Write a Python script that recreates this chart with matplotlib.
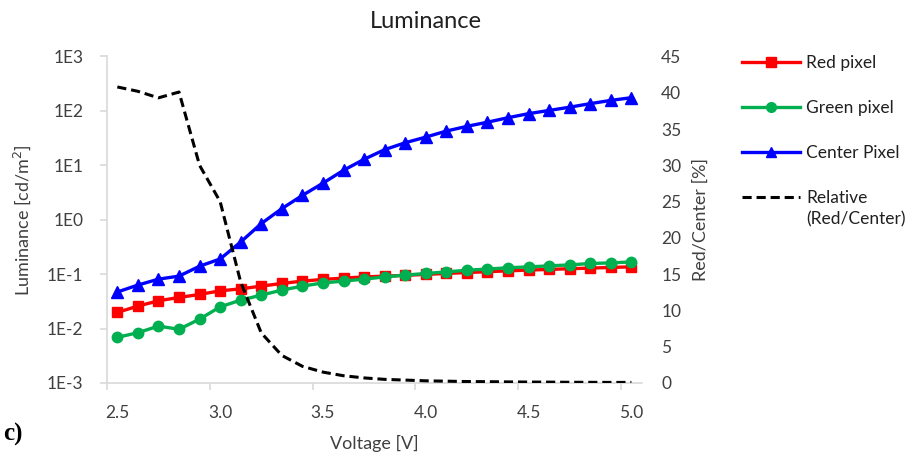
import numpy as np
import matplotlib
matplotlib.use("Agg")
import matplotlib.pyplot as plt
from matplotlib.lines import Line2D

# Spannungen 2.5 .. 5.0 V (26 Punkte)
voltage = [2.5, 2.6, 2.7, 2.8, 2.9, 3.0, 3.1, 3.2, 3.3, 3.4, 3.5, 3.6, 3.7,
           3.8, 3.9, 4.0, 4.1, 4.2, 4.3, 4.4, 4.5, 4.6, 4.7, 4.8, 4.9, 5.0]

red_pixel = [0.0198, 0.0259, 0.0324, 0.0373, 0.0424, 0.0494, 0.0537, 0.0603, 0.0675,
             0.0745, 0.080, 0.0845, 0.089, 0.092, 0.095, 0.099, 0.103, 0.107, 0.111,
             0.115, 0.119, 0.122, 0.126, 0.129, 0.133, 0.136]
green_pixel = [0.0069, 0.0084, 0.0111, 0.0097, 0.0149, 0.0251, 0.0333, 0.0412, 0.0509,
               0.0603, 0.069, 0.0745, 0.081, 0.089, 0.096, 0.103, 0.110, 0.118, 0.124,
               0.131, 0.136, 0.142, 0.148, 0.157, 0.161, 0.168]
center_pixel = [0.047, 0.063, 0.081, 0.092, 0.14, 0.19, 0.39, 0.85, 1.6, 2.8, 4.7, 8.1,
                12.9, 19.4, 26, 33, 42.6, 52, 62, 75, 89, 102, 117, 136, 156, 175]
relative = [40.8, 40.2, 39.3, 40.1, 30.0, 25.0, 13.9, 6.9, 3.8, 2.3, 1.5, 1.0, 0.7,
            0.5, 0.4, 0.3, 0.25, 0.2, 0.18, 0.15, 0.13, 0.12, 0.1, 0.09, 0.08, 0.08]

log_ticks = [1e-3, 1e-2, 1e-1, 1e0, 1e1, 1e2, 1e3]
log_labels = ["1E-3", "1E-2", "1E-1", "1E0", "1E1", "1E2", "1E3"]
x_ticks = [2.5, 3.0, 3.5, 4.0, 4.5, 5.0]

plt.rcParams['font.family'] = ['Lato', 'DejaVu Sans']
txt = '#404040'
axis_grey = '#d9d9d9'

fig = plt.figure(figsize=(9.18, 4.54), dpi=100)
ax = fig.add_axes([0.1166, 0.1564, 0.5824, 0.7192])
ax2 = ax.twinx()

lw = 2.4
ax.plot(voltage, red_pixel, '-s', color='#ff0000', lw=lw, ms=7, label='Red pixel')
ax.plot(voltage, green_pixel, '-o', color='#00b050', lw=lw, ms=7.5, label='Green pixel')
ax.plot(voltage, center_pixel, '-^', color='#0000ff', lw=lw, ms=8, label='Center Pixel')
ax2.plot(voltage, relative, '--', color='black', lw=2.2, dashes=(3, 1.6))

ax.set_yscale('log')
ax.set_ylim(1e-3, 1e3)
ax.set_yticks(log_ticks)
ax.set_yticklabels(log_labels)
ax.yaxis.set_minor_locator(matplotlib.ticker.NullLocator())
ax.set_xlim(2.45, 5.05)
ax.set_xticks(x_ticks)
ax.set_xticklabels(["%.1f" % v for v in x_ticks])
ax.set_xticks(np.arange(2.45, 5.0, 0.5), minor=True)
ax.tick_params(axis='x', which='major', length=0, pad=16, labelsize=12.5, colors=txt)
ax.tick_params(axis='x', which='minor', length=5, color=axis_grey, width=1.2)
ax.tick_params(axis='y', length=5, color=axis_grey, width=1.2, labelsize=12.5,
               colors=txt, pad=12)

ax2.set_ylim(0, 45)
ax2.set_yticks(range(0, 50, 5))
ax2.tick_params(axis='y', length=0, pad=14, labelsize=12.5, colors=txt)

for a in (ax, ax2):
    for s in ('top', 'right'):
        a.spines[s].set_visible(False)
ax2.spines['left'].set_visible(False)
ax2.spines['bottom'].set_visible(False)
ax.spines['left'].set_color(axis_grey)
ax.spines['bottom'].set_color(axis_grey)
ax.spines['left'].set_linewidth(1.2)
ax.spines['bottom'].set_linewidth(1.2)

fig.text(0.464, 0.952, 'Luminance', fontsize=17, color='#202020', ha='center', va='center')
ax.set_xlabel('Voltage [V]', fontsize=13, color=txt, labelpad=10)
ax.set_ylabel('Luminance [cd/m$^2$]', fontsize=13, color=txt, labelpad=10)
ax2.set_ylabel('Red/Center [%]', fontsize=13, color=txt, labelpad=8)

handles = [Line2D([], [], color='#ff0000', lw=lw, marker='s', ms=7),
           Line2D([], [], color='#00b050', lw=lw, marker='o', ms=7),
           Line2D([], [], color='#0000ff', lw=lw, marker='^', ms=7),
           Line2D([], [], color='black', lw=2.2, ls='--', dashes=(3, 1.6))]
labels = ['Red pixel', 'Green pixel', 'Center Pixel', 'Relative']
leg = fig.legend(handles, labels, loc='upper left', bbox_to_anchor=(0.801, 0.895),
                 frameon=False, fontsize=12.5, handlelength=3.3, handletextpad=0.4,
                 labelspacing=1.68, borderaxespad=0)
for t in leg.get_texts():
    t.set_color('#202020')

# zweite Zeile des letzten Eintrags
fig.canvas.draw()
bb = leg.get_texts()[-1].get_window_extent().transformed(fig.transFigure.inverted())
fig.text(bb.x0, bb.y0 - 0.012, '(Red/Center)', fontsize=12.5, color='#202020',
         va='top', ha='left')

fig.text(0.003, 0.03, 'c)', fontsize=18, fontweight='bold',
         family=['Liberation Serif', 'DejaVu Serif'])

fig.savefig('out.png', dpi=100)
